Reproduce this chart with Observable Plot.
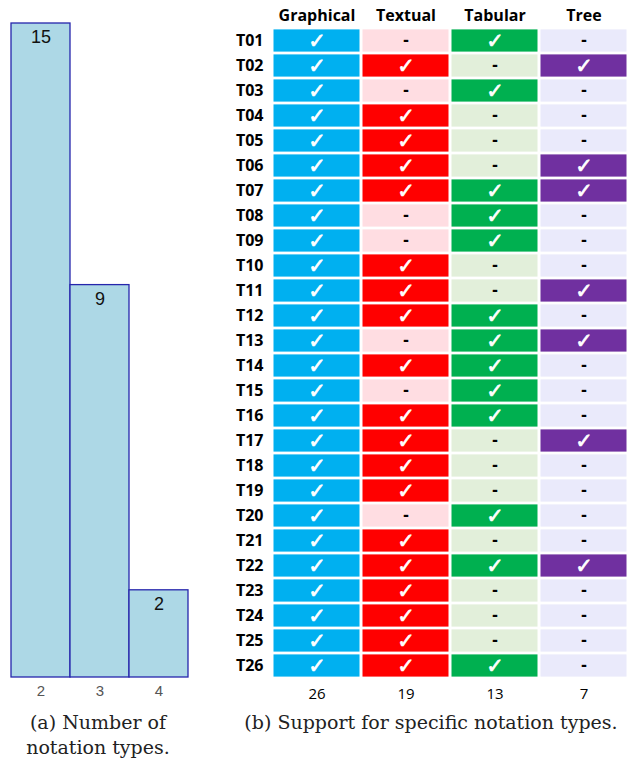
<!DOCTYPE html>
<html>
<head>
<meta charset="utf-8">
<script src="https://cdn.jsdelivr.net/npm/d3@7"></script>
<script src="https://cdn.jsdelivr.net/npm/@observablehq/plot@0.6"></script>
<style>
  html, body { margin: 0; padding: 0; background: #fff; }
  #wrap { position: relative; width: 634px; height: 765px; overflow: hidden; }
  .panel { position: absolute; top: 0; }
  .cap { position: absolute; font-family: "DejaVu Serif", serif; font-size: 19px; color: #222; text-align: center; line-height: 25px; }
</style>
</head>
<body>
<div id="wrap">
  <div id="a" class="panel" style="left:0px"></div>
  <div id="b" class="panel" style="left:200px"></div>
  <div class="cap" style="left:0px; width:196px; top:710px;">(a) Number of<br>notation types.</div>
  <div class="cap" style="left:226px; width:410px; top:710px;">(b) Support for specific notation types.</div>
</div>
<script>
// ---- Data ----
const typeCounts = [2, 3, 4];
const typeFreq = [15, 9, 2];

const tasks = ["T01","T02","T03","T04","T05","T06","T07","T08","T09","T10","T11","T12","T13",
               "T14","T15","T16","T17","T18","T19","T20","T21","T22","T23","T24","T25","T26"];
const columns = ["Graphical", "Textual", "Tabular", "Tree"];
const graphical = [1,1,1,1,1,1,1,1,1,1,1,1,1,1,1,1,1,1,1,1,1,1,1,1,1,1];
const textual   = [0,1,0,1,1,1,1,0,0,1,1,1,0,1,0,1,1,1,1,0,1,1,1,1,1,1];
const tabular   = [1,0,1,0,0,0,1,1,1,0,0,1,1,1,1,1,0,0,0,1,0,1,0,0,0,1];
const tree      = [0,1,0,0,0,1,1,0,0,0,1,0,1,0,0,0,1,0,0,0,0,1,0,0,0,0];
const onColors  = ["#00B0F0", "#FF0000", "#00B050", "#7030A0"];
const offColors = ["#00B0F0", "#FFDDE2", "#E2EFDA", "#EAEAFB"];

// ---- Build tables ----
const series = [graphical, textual, tabular, tree];
const cells = [];
columns.forEach((c, ci) => tasks.forEach((t, ti) => {
  const v = series[ci][ti];
  cells.push({col: c, task: t, v, fill: v ? onColors[ci] : offColors[ci]});
}));
const totals = new Map(columns.map((c, ci) => [c, d3.sum(series[ci])]));
const bars = typeCounts.map((k, i) => ({k, n: typeFreq[i]}));

// ---- Chart (a) ----
const chartA = Plot.plot({
  width: 200, height: 705,
  marginTop: 23, marginBottom: 28, marginLeft: 10, marginRight: 12,
  style: {fontFamily: "'Liberation Sans', Arial, sans-serif", background: "transparent"},
  x: {type: "band", domain: typeCounts, padding: 0, label: null},
  y: {domain: [0, 15], axis: null},
  marks: [
    Plot.barY(bars, {x: "k", y: "n", fill: "#ADD8E6", stroke: "#2626AC", strokeWidth: 1.3}),
    Plot.text(bars, {x: "k", y: "n", text: d => String(d.n), dy: 14, fontSize: 18, fill: "#111"}),
    Plot.axisX({tickSize: 0, tickPadding: 8, fontSize: 15, fill: "#555", label: null})
  ]
});
document.getElementById("a").append(chartA);

// ---- Chart (b) ----
const chartB = Plot.plot({
  width: 434, height: 705,
  marginTop: 25, marginBottom: 24.5, marginLeft: 70, marginRight: 5,
  style: {fontFamily: "'Open Sans', sans-serif", background: "transparent"},
  x: {type: "band", domain: columns, padding: 0, label: null},
  y: {type: "band", domain: tasks, padding: 0, label: null},
  color: {type: "identity"},
  marks: [
    Plot.cell(cells, {x: "col", y: "task", fill: "fill",
      insetLeft: 1.5, insetRight: 1.5, insetTop: 1.4, insetBottom: 1.4}),
    Plot.text(cells.filter(d => d.v), {x: "col", y: "task", text: () => "\u2713",
      fill: "white", stroke: "white", strokeWidth: 0.7, fontSize: 21, fontWeight: "bold", fontFamily: "DejaVu Sans"}),
    Plot.text(cells.filter(d => !d.v), {x: "col", y: "task", text: () => "-",
      fill: "black", fontSize: 17, fontWeight: "bold"}),
    Plot.axisX({anchor: "top", tickSize: 0, tickPadding: 5, fontSize: 16, fontWeight: "bold", fill: "black", label: null}),
    Plot.axisX({anchor: "bottom", tickSize: 0, tickPadding: 7, fontSize: 15, fill: "black", label: null,
      tickFormat: c => String(totals.get(c))}),
    Plot.axisY({tickSize: 0, tickPadding: 7, fontSize: 16, fontWeight: "bold", fill: "black", label: null})
  ]
});
document.getElementById("b").append(chartB);
</script>
</body>
</html>
